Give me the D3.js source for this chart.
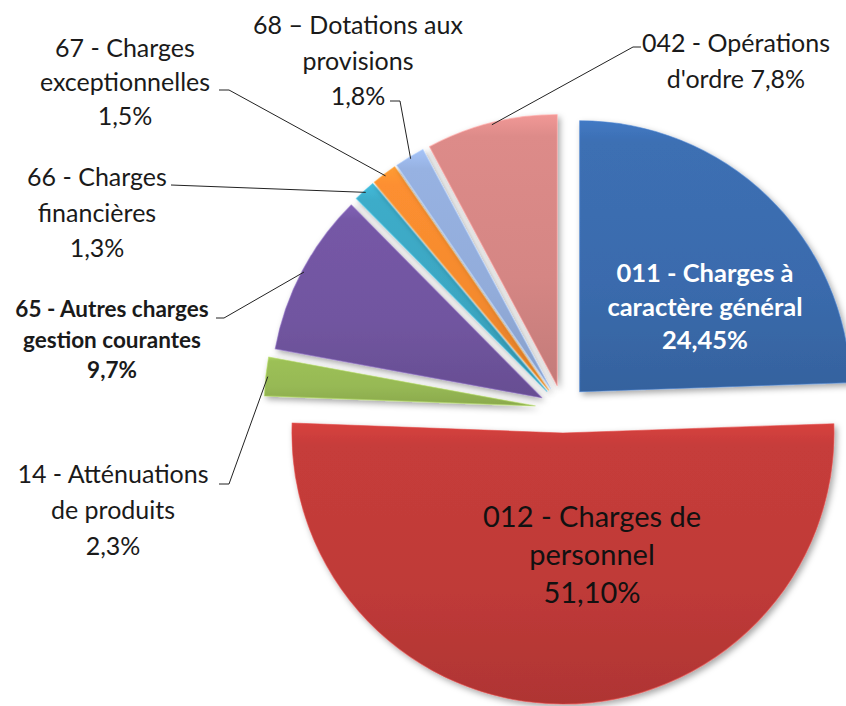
<!DOCTYPE html>
<html>
<head>
<meta charset="utf-8">
<script src="https://cdn.jsdelivr.net/npm/d3@7"></script>
<style>
  html, body { margin: 0; padding: 0; background: #ffffff; }
  svg { display: block; }
  text { font-family: Lato, "Open Sans", sans-serif; }
</style>
</head>
<body>
<div id="chart"></div>
<script>
// ---------- DATA ----------
const categories = [
  "011 - Charges à caractère général",
  "012 - Charges de personnel",
  "14 - Atténuations de produits",
  "65 - Autres charges gestion courantes",
  "66 - Charges financières",
  "67 - Charges exceptionnelles",
  "68 – Dotations aux provisions",
  "042 - Opérations d'ordre"
];
const values = [24.45, 51.10, 2.3, 9.7, 1.3, 1.5, 1.8, 7.8];
const labelLines = [
  ["011 - Charges à", "caractère général", "24,45%"],
  ["012 - Charges de", "personnel", "51,10%"],
  ["14 - Atténuations", "de produits", "2,3%"],
  ["65 - Autres charges", "gestion courantes", "9,7%"],
  ["66 - Charges", "financières", "1,3%"],
  ["67 - Charges", "exceptionnelles", "1,5%"],
  ["68 – Dotations aux", "provisions", "1,8%"],
  ["042 - Opérations", "d'ordre 7,8%"]
];
const colors = ["#3a6bad", "#bf3a38", "#97b954", "#7155a0", "#3ba6c2", "#f48a2e", "#92acda", "#d58684"];

// ---------- LAYOUT (positions / styles) ----------
const W = 846, H = 706;
const cx = 563, cy = 409, R = 271;
const explodeBy = [24, 24, 28, 24, 24, 24, 24, 24];
const labelStyle = [
  {x: 705, y: 282, lh: 33.5, size: 25.5, weight: 700, fill: "#ffffff"},
  {x: 592, y: 527, lh: 38, size: 29, weight: 400, fill: "#111111"},
  {x: 113, y: 483, lh: 36, size: 25, weight: 400, fill: "#1a1a1a"},
  {x: 112, y: 317, lh: 30.5, size: 22.5, weight: 700, fill: "#1a1a1a"},
  {x: 97,  y: 186, lh: 35.5, size: 25, weight: 400, fill: "#1a1a1a"},
  {x: 125, y: 57,  lh: 34,  size: 25, weight: 400, fill: "#1a1a1a"},
  {x: 358, y: 34,  lh: 35.5, size: 25, weight: 400, fill: "#1a1a1a"},
  {x: 736, y: 52,  lh: 36,  size: 25, weight: 400, fill: "#1a1a1a"}
];
// leader start points (near label text); end is computed on the slice's outer arc
const leaders = {
  2: [[219, 484], [229, 484]],
  3: [[216, 318], [224, 318]],
  4: [[171, 185]],
  5: [[219, 90], [229, 90]],
  6: [[390, 101], [400, 101]],
  7: [[641, 47], [633, 47]]
};

const svg = d3.select("#chart").append("svg")
  .attr("width", W).attr("height", H)
  .attr("viewBox", `0 0 ${W} ${H}`);

const defs = svg.append("defs");
const shadow = defs.append("filter").attr("id", "shadow")
  .attr("x", "-20%").attr("y", "-20%").attr("width", "140%").attr("height", "140%");
shadow.append("feDropShadow").attr("dx", 2.5).attr("dy", 3).attr("stdDeviation", 3)
  .attr("flood-color", "#000").attr("flood-opacity", 0.35);

colors.forEach((c, i) => {
  const base = d3.color(c);
  const g = defs.append("linearGradient").attr("id", "grad" + i)
    .attr("x1", 0).attr("y1", 0).attr("x2", 0).attr("y2", 1);
  g.append("stop").attr("offset", "0%").attr("stop-color", base.brighter(0.35));
  g.append("stop").attr("offset", "8%").attr("stop-color", base.brighter(0.1));
  g.append("stop").attr("offset", "60%").attr("stop-color", base);
  g.append("stop").attr("offset", "100%").attr("stop-color", base.darker(0.25));
});

const pie = d3.pie().sort(null).value(d => d).startAngle(0).endAngle(2 * Math.PI);
const arcs = pie(values);
const arc = d3.arc().innerRadius(0).outerRadius(R);

function offset(a) {
  const m = (a.startAngle + a.endAngle) / 2;
  const e = explodeBy[a.index];
  return [e * Math.sin(m), -e * Math.cos(m)];
}

const slices = svg.append("g").attr("transform", `translate(${cx},${cy})`);
slices.selectAll("path.slice").data(arcs).enter().append("path")
  .attr("class", "slice")
  .attr("transform", d => { const o = offset(d); return `translate(${o[0]},${o[1]})`; })
  .attr("d", arc)
  .attr("fill", (d, i) => `url(#grad${i})`)
  .attr("stroke", (d, i) => d3.color(colors[i]).brighter(0.5))
  .attr("stroke-opacity", 0.55)
  .attr("stroke-width", 1.2)
  .attr("stroke-linejoin", "round")
  .attr("filter", "url(#shadow)");

// leader lines
const leaderG = svg.append("g");
Object.keys(leaders).forEach(k => {
  const i = +k, a = arcs[i];
  const m = (a.startAngle + a.endAngle) / 2;
  const o = offset(a);
  const end = [cx + o[0] + (R - 2) * Math.sin(m), cy + o[1] - (R - 2) * Math.cos(m)];
  const pts = leaders[i].concat([end]);
  leaderG.append("path")
    .attr("d", d3.line()(pts))
    .attr("fill", "none")
    .attr("stroke", "#222")
    .attr("stroke-width", 1);
});

// labels
const labelG = svg.append("g");
labelLines.forEach((lines, i) => {
  const s = labelStyle[i];
  const t = labelG.append("text")
    .attr("text-anchor", "middle")
    .attr("font-size", s.size)
    .attr("font-weight", s.weight)
    .attr("fill", s.fill);
  lines.forEach((ln, j) => {
    t.append("tspan").attr("x", s.x).attr("y", s.y + j * s.lh).text(ln);
  });
});
</script>
</body>
</html>
